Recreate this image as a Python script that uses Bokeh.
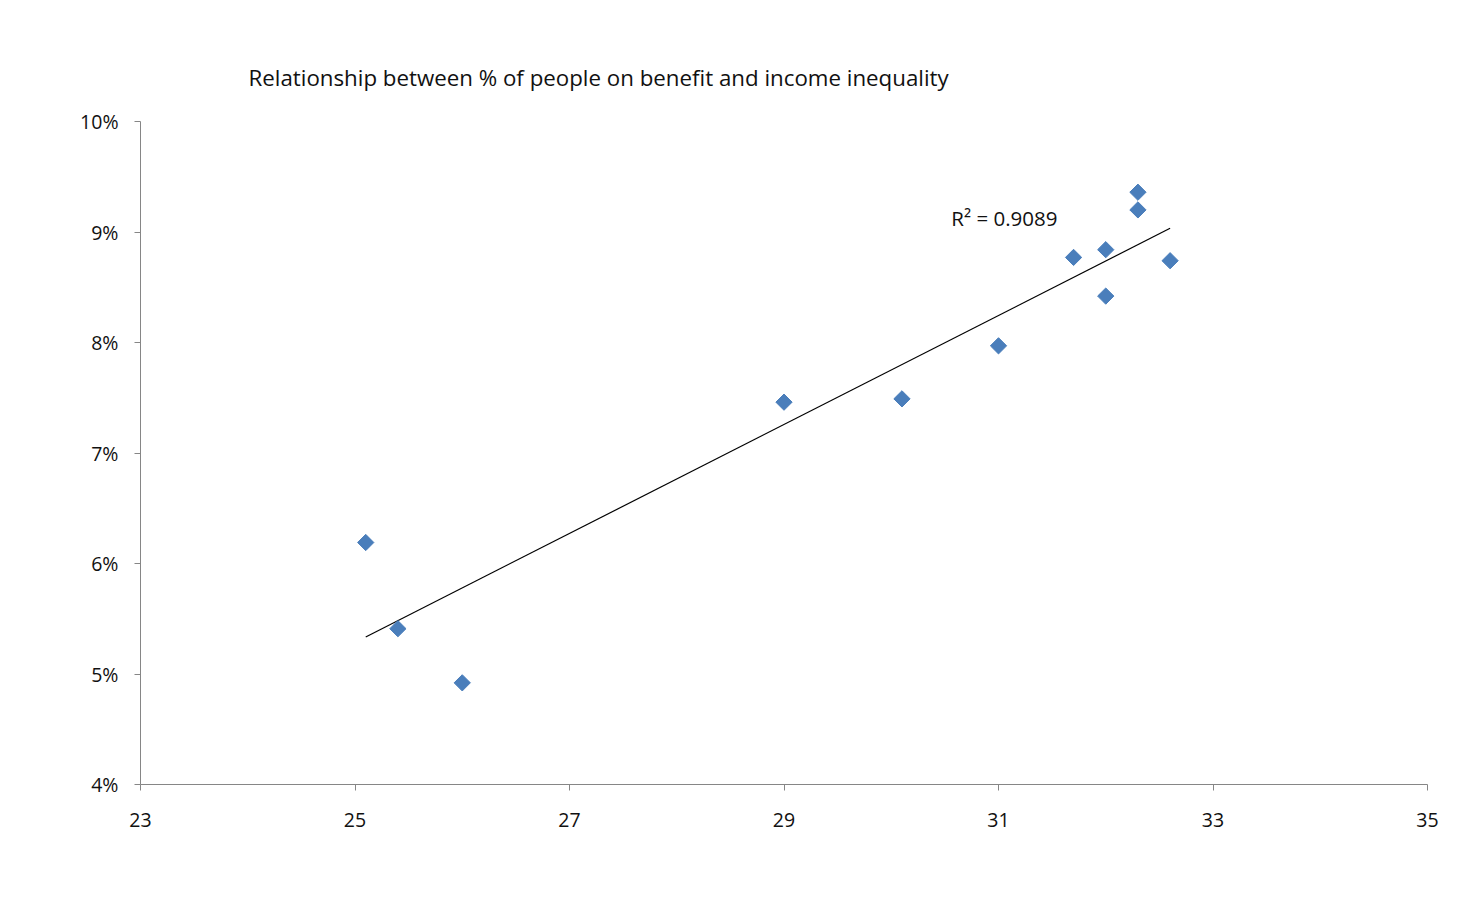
import numpy as np
from bokeh.plotting import figure
from bokeh.models import Range1d, FixedTicker, PrintfTickFormatter, Label
from bokeh.embed import file_html
from bokeh.resources import INLINE

# data
inequality = [25.1, 25.4, 26.0, 29.0, 30.1, 31.0, 31.7, 32.0, 32.0, 32.3, 32.3, 32.6]
benefit_pct = [6.19, 5.41, 4.92, 7.46, 7.49, 7.97, 8.77, 8.84, 8.42, 9.36, 9.20, 8.74]
x_ticks = [23, 25, 27, 29, 31, 33, 35]
y_ticks = [4, 5, 6, 7, 8, 9, 10]
title_text = "Relationship between % of people on benefit and income inequality"
r2_label = "R\u00b2 = 0.9089"

FONT = "Open Sans"

p = figure(width=1467, height=890, output_backend="svg", toolbar_location=None,
           x_range=Range1d(23, 35), y_range=Range1d(4, 10),
           min_border_left=140, min_border_right=40, min_border_top=121, min_border_bottom=106)

p.title.text = title_text
p.title.align = "left"
p.title.offset = 108
p.title.standoff = 57
p.title.text_font = FONT
p.title.text_font_size = "22.3px"
p.title.text_font_style = "normal"
p.title.text_color = "#111111"

p.grid.visible = False
p.outline_line_color = None
p.background_fill_color = "white"
p.border_fill_color = "white"

for ax in (p.xaxis[0], p.yaxis[0]):
    ax.axis_line_color = "#868686"
    ax.major_tick_line_color = "#868686"
    ax.major_tick_in = 0
    ax.major_tick_out = 6
    ax.minor_tick_line_color = None
    ax.major_label_text_font = FONT
    ax.major_label_text_font_size = "19.5px"
    ax.major_label_text_color = "#111111"

p.xaxis.ticker = FixedTicker(ticks=x_ticks)
p.yaxis.ticker = FixedTicker(ticks=y_ticks)
p.yaxis.formatter = PrintfTickFormatter(format="%d%%")
p.xaxis.major_label_standoff = 22
p.yaxis.major_label_standoff = 16

# trend line (least squares)
slope, intercept = np.polyfit(inequality, benefit_pct, 1)
xs = [min(inequality), max(inequality)]
ys = [slope * v + intercept for v in xs]
p.line(xs, ys, line_color="black", line_width=1.2)

p.scatter(inequality, benefit_pct, marker="square", angle=np.pi / 4, size=11.5,
          fill_color="#4A7EBB", line_color="#4A7EBB")

p.add_layout(Label(x=30.56, y=9.13, text=r2_label, text_font=FONT, text_font_size="20.5px",
                   text_color="#111111", text_baseline="alphabetic"))

open("out.html", "w").write(file_html(p, INLINE))
